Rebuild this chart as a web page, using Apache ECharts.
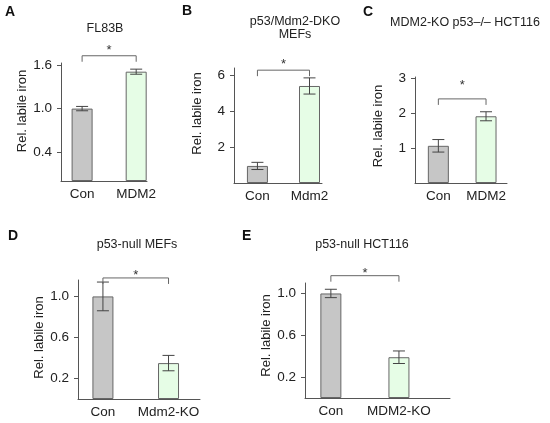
<!DOCTYPE html>
<html>
<head>
<meta charset="utf-8">
<script src="https://cdn.jsdelivr.net/npm/echarts@6/dist/echarts.min.js"></script>
<style>
  html, body { margin: 0; padding: 0; background: #fff; }
  #chart { width: 550px; height: 423px; }
</style>
</head>
<body>
<div id="chart"></div>
<script>
// data
var panelLetters = ['A', 'B', 'C', 'D', 'E'];
var panelTitles = ['FL83B', 'p53/Mdm2-DKO\nMEFs', 'MDM2-KO p53\u2013/\u2013 HCT116', 'p53-null MEFs', 'p53-null HCT116'];
var categories = [['Con', 'MDM2'], ['Con', 'Mdm2'], ['Con', 'MDM2'], ['Con', 'Mdm2-KO'], ['Con', 'MDM2-KO']];
var means = [[1.0, 1.51], [0.95, 5.4], [1.07, 1.92], [1.0, 0.35], [1.0, 0.39]];
var errors = [[0.03, 0.035], [0.2, 0.45], [0.18, 0.13], [0.14, 0.075], [0.04, 0.06]];
var yTicks = [[0.4, 1.0, 1.6], [2, 4, 6], [1, 2, 3], [0.2, 0.6, 1.0], [0.2, 0.6, 1.0]];
var sigLevels = [1.73, 6.28, 2.42, 1.18, 1.17];
var sigMark = '*';
var yName = 'Rel. labile iron';

var FONT = 'Liberation Sans, Arial, Helvetica, sans-serif';
var barColors = ['#c6c6c6', '#e6fde6'];

// layout of the five panels
var layout = [
  { left: 61,  top: 63,  width: 86,  height: 118, yMax: 1.63, xMin: -0.39, xMax: 1.2,  dec: 1, shift: 11, star: 8,  title: [105, 29], letter: [5, 5] },
  { left: 234, top: 68,  width: 88,  height: 115, yMax: 6.4,  xMin: -0.45, xMax: 1.24, dec: 0, shift: 12, star: 9,  title: [295, 28], letter: [182, 4] },
  { left: 415, top: 77,  width: 92,  height: 106, yMax: 3.05, xMin: -0.49, xMax: 1.44, dec: 0, shift: 4,  star: 16, title: [465, 23], letter: [363, 5] },
  { left: 78,  top: 280, width: 122, height: 119, yMax: 1.16, xMin: -0.38, xMax: 1.48, dec: 1, shift: 2,  star: 6,  title: [137, 245], letter: [8, 229] },
  { left: 305, top: 283, width: 145, height: 115, yMax: 1.1,  xMin: -0.38, xMax: 1.75, dec: 1, shift: 5,  star: 5,  title: [362, 245], letter: [242, 229] }
];

function errorBar(params, api) {
  var x = api.value(0), m = api.value(1), e = api.value(2);
  var t = api.coord([x, m + e]);
  var b = api.coord([x, m - e]);
  var hw = 6;
  var st = { stroke: '#444', lineWidth: 1 };
  return {
    type: 'group',
    children: [
      { type: 'line', shape: { x1: t[0], y1: t[1], x2: b[0], y2: b[1] }, style: st },
      { type: 'line', shape: { x1: t[0] - hw, y1: t[1], x2: t[0] + hw, y2: t[1] }, style: st },
      { type: 'line', shape: { x1: b[0] - hw, y1: b[1], x2: b[0] + hw, y2: b[1] }, style: st }
    ]
  };
}

function makeBracket(starGap) {
  return function (params, api) {
    var p0 = api.coord([api.value(0), api.value(2)]);
    var p1 = api.coord([api.value(1), api.value(2)]);
    var drop = 6;
    return {
      type: 'group',
      children: [
        {
          type: 'polyline',
          shape: { points: [[p0[0], p0[1] + drop], [p0[0], p0[1]], [p1[0], p1[1]], [p1[0], p1[1] + drop]] },
          style: { stroke: '#666', lineWidth: 1, fill: null }
        },
        {
          type: 'text',
          x: (p0[0] + p1[0]) / 2,
          y: p0[1] - starGap + 3,
          style: { text: sigMark, align: 'center', verticalAlign: 'middle', fontSize: 13, fontFamily: FONT, fill: '#333' }
        }
      ]
    };
  };
}

var grids = [], xAxes = [], yAxes = [], series = [], graphics = [];

layout.forEach(function (L, i) {
  grids.push({ left: L.left, top: L.top, width: L.width, height: L.height, containLabel: false, outerBoundsMode: 'none' });

  xAxes.push({
    type: 'value', gridIndex: i, min: L.xMin, max: L.xMax,
    splitLine: { show: false },
    axisLine: { show: true, onZero: false, lineStyle: { color: '#555', width: 1 } },
    axisTick: { show: false },
    axisLabel: {
      customValues: [0, 1], margin: 6, fontSize: 13.5, fontFamily: FONT, color: '#222',
      formatter: function (v) { return categories[i][Math.round(v)]; }
    }
  });

  yAxes.push({
    type: 'value', gridIndex: i, min: 0, max: L.yMax,
    name: yName, nameLocation: 'middle', nameGap: 30, nameRotate: 90,
    nameTextStyle: { fontSize: 13, fontFamily: FONT, color: '#222', padding: [0, 0, 0, L.shift * 2] },
    splitLine: { show: false },
    axisLine: { show: true, onZero: false, lineStyle: { color: '#555', width: 1 } },
    axisTick: { show: true, customValues: yTicks[i], length: 4, lineStyle: { color: '#555' } },
    axisLabel: {
      customValues: yTicks[i], margin: 9, fontSize: 13.5, fontFamily: FONT, color: '#222',
      formatter: function (v) { return v.toFixed(L.dec); }
    }
  });

  series.push({
    type: 'bar', xAxisIndex: i, yAxisIndex: i, barWidth: 21,
    data: means[i].map(function (m, k) {
      return { value: [k, m], itemStyle: { color: barColors[k], borderColor: '#666', borderWidth: 1 } };
    }),
    silent: true
  });

  series.push({
    type: 'custom', xAxisIndex: i, yAxisIndex: i, z: 3, silent: true,
    renderItem: errorBar,
    data: means[i].map(function (m, k) { return [k, m, errors[i][k]]; })
  });

  series.push({
    type: 'custom', xAxisIndex: i, yAxisIndex: i, z: 3, silent: true,
    renderItem: makeBracket(L.star),
    data: [[0, 1, sigLevels[i]]]
  });

  graphics.push({
    type: 'text', x: L.title[0], y: L.title[1],
    style: { text: panelTitles[i], align: 'center', verticalAlign: 'middle', fontSize: 12.5, lineHeight: 13, fontFamily: FONT, fill: '#222' }
  });
  graphics.push({
    type: 'text', x: L.letter[0], y: L.letter[1],
    style: { text: panelLetters[i], fontSize: 14, fontWeight: 'bold', fontFamily: FONT, fill: '#111' }
  });
});

var myChart = echarts.init(document.getElementById('chart'));
myChart.setOption({
  backgroundColor: '#fff',
  animation: false,
  grid: grids,
  xAxis: xAxes,
  yAxis: yAxes,
  series: series,
  graphic: graphics
});
</script>
</body>
</html>
